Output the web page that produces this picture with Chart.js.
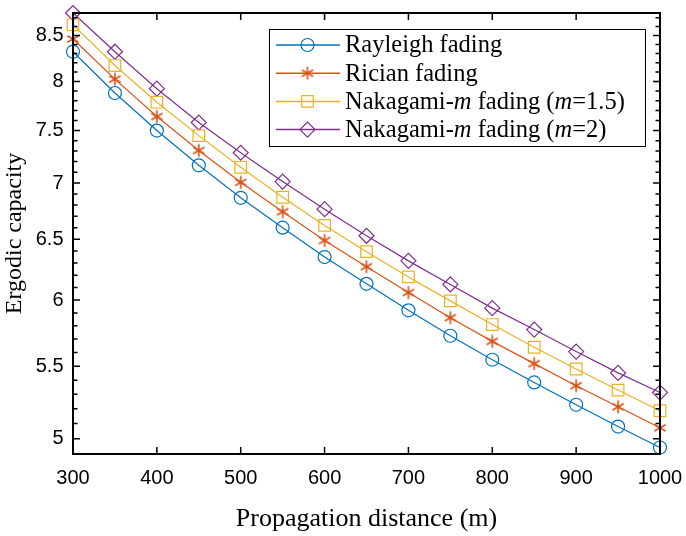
<!DOCTYPE html>
<html lang="en">
<head>
<meta charset="UTF-8">
<title>Ergodic capacity vs propagation distance</title>
<script src="https://cdn.jsdelivr.net/npm/chart.js"></script>
<style>
    html, body { margin: 0; padding: 0; background: #fff; }
    #wrap { width: 686px; height: 536px; position: relative; }
</style>
</head>
<body>
<div id="wrap"><canvas id="capChart"></canvas></div>
<script>
// data
const distances = [300, 350, 400, 450, 500, 550, 600, 650, 700, 750, 800, 850, 900, 950, 1000];
const rayleigh   = [8.32, 7.88, 7.50, 7.165, 6.865, 6.60, 6.35, 6.13, 5.92, 5.725, 5.547, 5.384, 5.228, 5.08, 4.942];
const rician     = [8.46, 8.025, 7.64, 7.306, 7.006, 6.74, 6.49, 6.27, 6.06, 5.863, 5.683, 5.519, 5.361, 5.214, 5.072];
const nakagami15 = [8.62, 8.17, 7.785, 7.45, 7.146, 6.87, 6.62, 6.395, 6.186, 5.994, 5.81, 5.639, 5.48, 5.33, 5.187];
const nakagami2  = [8.755, 8.32, 7.925, 7.58, 7.284, 7.013, 6.763, 6.53, 6.318, 6.125, 5.937, 5.772, 5.607, 5.452, 5.313];
const xTicks = [300, 400, 500, 600, 700, 800, 900, 1000];
const yTicks = [5, 5.5, 6, 6.5, 7, 7.5, 8, 8.5];

const SERIF = '"Liberation Serif", "Times New Roman", serif';
const SANS = '"Liberation Sans", Arial, sans-serif';

// MATLAB style asterisk marker
function makeStar(color) {
    const c = document.createElement('canvas');
    c.width = 16; c.height = 16;
    const g = c.getContext('2d');
    g.strokeStyle = color;
    g.lineWidth = 1.6;
    g.beginPath();
    [90, 30, 150].forEach(deg => {
        const a = deg * Math.PI / 180, r = 6.5;
        g.moveTo(8 - Math.cos(a) * r, 8 - Math.sin(a) * r);
        g.lineTo(8 + Math.cos(a) * r, 8 + Math.sin(a) * r);
    });
    g.stroke();
    return c;
}

const series = [
    { label: [['Rayleigh fading']], values: rayleigh, color: '#0072BD', style: 'circle', r: 6.5 },
    { label: [['Rician fading']], values: rician, color: '#D95319', style: makeStar('#D95319'), r: 7 },
    { label: [['Nakagami-'], ['m', 1], [' fading ('], ['m', 1], ['=1.5)']], values: nakagami15, color: '#EDB120', style: 'rect', r: 8.2 },
    { label: [['Nakagami-'], ['m', 1], [' fading ('], ['m', 1], ['=2)']], values: nakagami2, color: '#7E2F8E', style: 'rectRot', r: 7.5 }
];

function drawMarker(ctx, s, x, y) {
    ctx.save();
    ctx.strokeStyle = s.color;
    ctx.lineWidth = 1.2;
    ctx.beginPath();
    if (s.style === 'circle') {
        ctx.arc(x, y, s.r, 0, Math.PI * 2);
    } else if (s.style === 'rect') {
        const h = s.r * Math.SQRT1_2;
        ctx.rect(x - h, y - h, 2 * h, 2 * h);
    } else if (s.style === 'rectRot') {
        ctx.moveTo(x - s.r, y); ctx.lineTo(x, y - s.r);
        ctx.lineTo(x + s.r, y); ctx.lineTo(x, y + s.r); ctx.closePath();
    } else {
        ctx.drawImage(s.style, x - 8, y - 8);
    }
    ctx.stroke();
    ctx.restore();
}

// axes box, inward ticks and the legend
const matlabBox = {
    id: 'matlabBox',
    afterDraw(chart) {
        const { ctx, chartArea: a, scales: { x, y } } = chart;
        ctx.save();
        ctx.strokeStyle = '#000';
        ctx.lineWidth = 1.5;
        ctx.beginPath();
        xTicks.forEach(v => {
            const px = x.getPixelForValue(v);
            ctx.moveTo(px, a.bottom); ctx.lineTo(px, a.bottom - 7);
            ctx.moveTo(px, a.top); ctx.lineTo(px, a.top + 7);
        });
        for (let k = 50; k <= 87; k++) {
            const v = k / 10;
            const major = k % 5 === 0;
            const len = major ? 7 : 4.5;
            const py = y.getPixelForValue(v);
            ctx.moveTo(a.left, py); ctx.lineTo(a.left + len, py);
            ctx.moveTo(a.right, py); ctx.lineTo(a.right - len, py);
        }
        ctx.stroke();
        ctx.lineWidth = 2;
        ctx.strokeRect(a.left, a.top, a.right - a.left, a.bottom - a.top);

        // legend
        const lx = 269.5, ly = 29.5, lw = 376, lh = 117;
        ctx.fillStyle = '#fff';
        ctx.fillRect(lx, ly, lw, lh);
        ctx.lineWidth = 1;
        ctx.strokeRect(lx, ly, lw, lh);
        series.forEach((s, i) => {
            const cy = 45 + i * 28.2;
            ctx.strokeStyle = s.color;
            ctx.lineWidth = 1.5;
            ctx.beginPath();
            ctx.moveTo(276, cy); ctx.lineTo(340, cy);
            ctx.stroke();
            drawMarker(ctx, s, 307.5, cy);
            let tx = 345;
            ctx.fillStyle = '#000';
            ctx.textBaseline = 'middle';
            s.label.forEach(([t, it]) => {
                ctx.font = (it ? 'italic ' : '') + '24.5px ' + SERIF;
                ctx.fillText(t, tx, cy + 1);
                tx += ctx.measureText(t).width;
            });
        });
        ctx.restore();
    }
};

function noPad(sc) {
    sc.paddingLeft = 0; sc.paddingRight = 0;
    sc.paddingTop = 0; sc.paddingBottom = 0;
}

new Chart(document.getElementById('capChart'), {
    type: 'line',
    data: {
        datasets: series.map(s => ({
            label: s.label.map(p => p[0]).join(''),
            data: distances.map((d, i) => ({ x: d, y: s.values[i] })),
            borderColor: s.color,
            backgroundColor: 'transparent',
            borderWidth: 1.2,
            pointStyle: s.style,
            pointRadius: s.r,
            pointHoverRadius: s.r,
            pointBorderColor: s.color,
            pointBackgroundColor: 'transparent',
            pointBorderWidth: 1.2,
            tension: 0,
            clip: false
        }))
    },
    options: {
        responsive: true,
        maintainAspectRatio: false,
        animation: false,
        devicePixelRatio: 1,
        layout: { padding: { top: 13, right: 26, left: 0, bottom: 0 } },
        plugins: { legend: { display: false }, tooltip: { enabled: false } },
        scales: {
            x: {
                type: 'linear',
                min: 300,
                max: 1000,
                afterBuildTicks: sc => { sc.ticks = xTicks.map(v => ({ value: v })); },
                afterFit: sc => { sc.height = 82; noPad(sc); },
                grid: { display: false, drawTicks: false },
                border: { display: false },
                ticks: { color: '#000', font: { family: SANS, size: 20 }, padding: 12, maxRotation: 0,
                    callback: v => String(v) },
                title: { display: true, text: 'Propagation distance (m)', color: '#000',
                    font: { family: SERIF, size: 26 }, padding: { top: 0, bottom: 1 } }
            },
            y: {
                type: 'logarithmic',
                min: Math.min(...rayleigh),
                max: Math.max(...nakagami2),
                afterBuildTicks: sc => { sc.ticks = yTicks.map(v => ({ value: v })); },
                afterFit: sc => { sc.width = 73; noPad(sc); },
                grid: { display: false, drawTicks: false },
                border: { display: false },
                ticks: { color: '#000', font: { family: SANS, size: 20 }, padding: 9.5,
                    callback: v => String(v) },
                title: { display: true, text: 'Ergodic capacity', color: '#000',
                    font: { family: SERIF, size: 24 }, padding: { top: 0, bottom: 0 } }
            }
        }
    },
    plugins: [matlabBox]
});
</script>
</body>
</html>
